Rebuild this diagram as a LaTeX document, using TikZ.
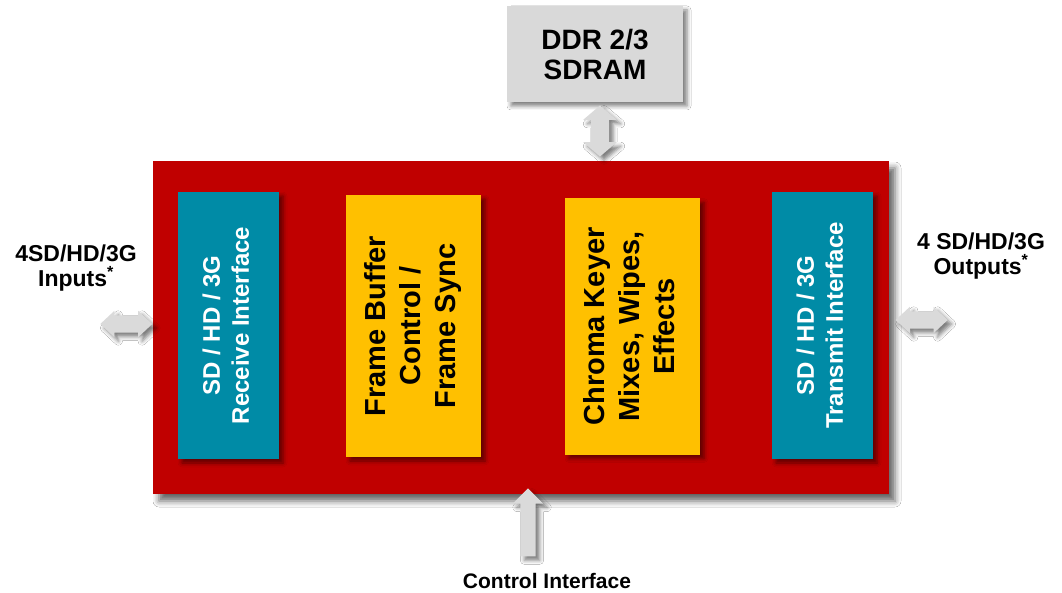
\documentclass[tikz,border=0pt]{standalone}
\usepackage{fontspec}
\setmainfont{Liberation Sans}
\usepackage{graphicx}
\usetikzlibrary{shadows.blur,shapes.arrows,calc}

\definecolor{boardred}{RGB}{192,0,0}
\definecolor{ifteal}{RGB}{0,139,166}
\definecolor{procgold}{RGB}{255,192,0}
\definecolor{memgray}{RGB}{217,217,217}
\definecolor{linkgray}{RGB}{218,218,218}

% vertical, bottom-to-top block caption: size, line skip, lines
\newcommand\vlabel[3]{\rotatebox{90}{\fontsize{#1}{#2}\selectfont\bfseries
  \begin{tabular}{@{}c@{}}#3\end{tabular}}}
% footnote star that does not widen the line box
\newcommand\fnstar{\smash{\textsuperscript{*}}}

\begin{document}
\begin{tikzpicture}[x=1pt,y=-1pt,
  softshadow/.style={blur shadow={shadow xshift=4pt,shadow yshift=-4pt,
      shadow blur radius=4pt,shadow opacity=50}},
  boardshadow/.style={blur shadow={shadow xshift=6pt,shadow yshift=-7pt,
      shadow blur radius=6pt,shadow opacity=60}},
  block/.style={draw=none,inner sep=0pt,anchor=center},
  iface/.style={block,fill=ifteal,text=white,softshadow,
      minimum width=101pt,minimum height=267pt},
  proc/.style={block,fill=procgold,text=black,softshadow,
      minimum width=135pt},
  caption/.style={align=center,font=\fontsize{23}{25}\selectfont\bfseries,
      inner sep=0pt},
  hlink/.style={double arrow,fill=linkgray,draw=none,inner xsep=0pt,
      inner ysep=8.5pt,minimum height=52pt,double arrow head extend=4.5pt,
      double arrow tip angle=86,softshadow},
]
\useasboundingbox (0,0) rectangle (1062,593);
\fill[white] (0,0) rectangle (1062,593);

% memory
\node[block,fill=memgray,softshadow,minimum width=176pt,minimum height=96pt,
      font=\fontsize{28}{30}\selectfont\bfseries,align=center]
  (ddr) at (595,54) {DDR 2/3\\SDRAM};

% main board
\node[block,fill=boardred,boardshadow,minimum width=736pt,minimum height=333pt]
  (board) at (521,327.5) {};

% inner blocks
\node[iface] (rx) at (228.5,325.5) {\vlabel{24}{29}{SD / HD / 3G\\Receive Interface}};
\node[proc,minimum height=262pt] (fb) at (413.5,326)
  {\vlabel{29}{35}{Frame Buffer\\Control /\\Frame Sync}};
\node[proc,minimum height=256pt] (ck) at (632.5,326.5)
  {\vlabel{29}{35}{Chroma Keyer\\Mixes, Wipes,\\Effects}};
\node[iface] (tx) at (822.5,325.5) {\vlabel{24}{29}{SD / HD / 3G\\Transmit Interface}};

% external captions
\node[caption] (inputs) at (76,268) {4SD/HD/3G\\Inputs\fnstar};
\node[caption] (outputs) at (981,256.5) {4 SD/HD/3G\\Outputs\fnstar};
\node[inner sep=0pt,font=\fontsize{21}{24}\selectfont\bfseries]
  (ctrl) at (547,580.5) {Control Interface};

% links
\coordinate (ddrtop) at ($(ddr.south)+(5,4)$);
\coordinate (ddrbot) at ($(ddr.south |- board.north)+(5,-5)$);
\node[double arrow,fill=linkgray,draw=none,inner xsep=9pt,inner ysep=0pt,
      minimum height=51pt,double arrow head extend=7.5pt,double arrow tip angle=99,
      shape border rotate=90,softshadow]
  (memlink) at ($(ddrtop)!0.5!(ddrbot)$) {};
\node[hlink] (inlink) at ($(board.west)+(-26.5,-3.5)$) {};
\node[hlink] (outlink) at ($(board.east)+(32.5,-7.5)$) {};
\node[single arrow,fill=linkgray,draw=none,inner xsep=7.5pt,inner ysep=0pt,
      minimum height=68pt,single arrow head extend=7.5pt,single arrow tip angle=90,
      shape border rotate=90,softshadow]
  (ctrllink) at ($(board.south)+(7,32)$) {};
\end{tikzpicture}
\end{document}
